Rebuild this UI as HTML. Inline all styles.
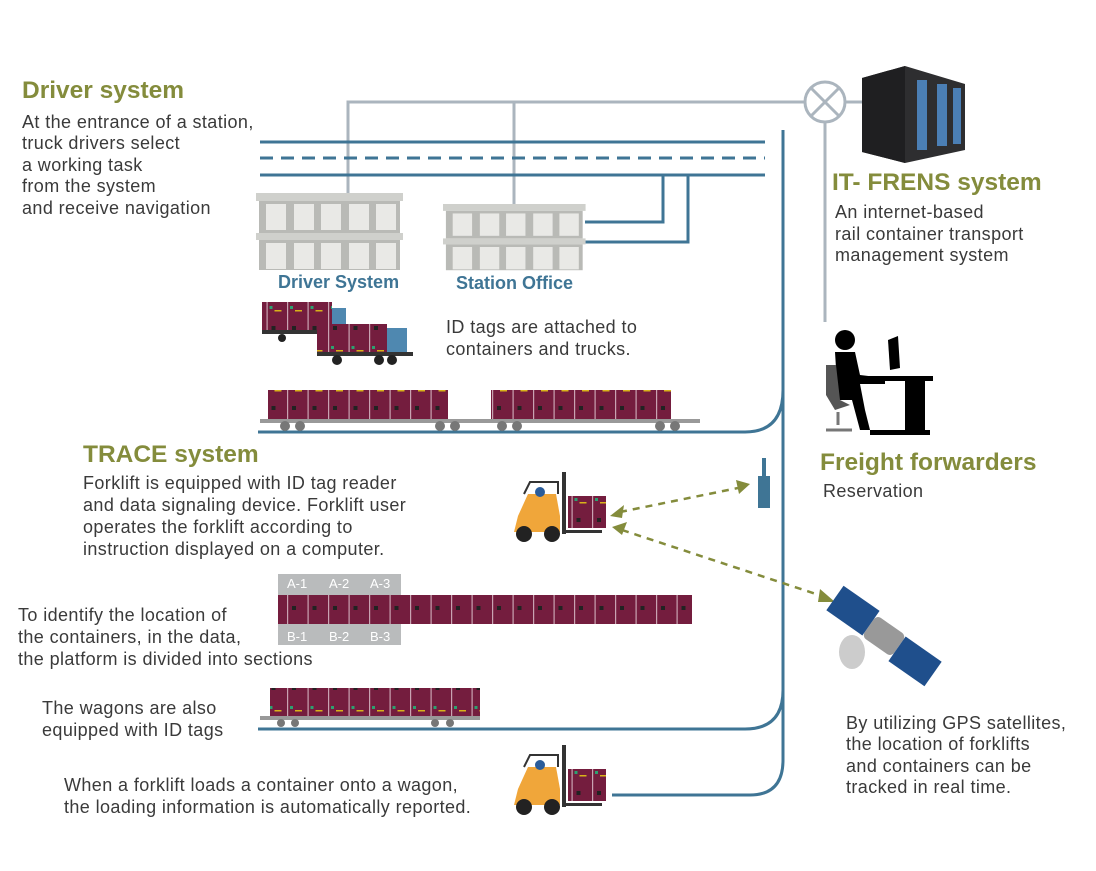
<!DOCTYPE html>
<html><head><meta charset="utf-8"><style>
html,body{margin:0;padding:0;background:#fff;}
svg{display:block;}
text{font-family:"Liberation Sans",sans-serif;}
.t{font-size:18px;fill:#3a3a3a;letter-spacing:0.4px;}
.h{font-size:24.5px;font-weight:bold;fill:#848c3c;}
.b{font-size:18px;font-weight:bold;fill:#3f7595;}
.g{font-size:13px;fill:#fff;}
</style></head><body>
<svg width="1096" height="871" viewBox="0 0 1096 871" xmlns="http://www.w3.org/2000/svg">
<defs>
<pattern id="cont" x="0" y="0" width="20.5" height="40" patternUnits="userSpaceOnUse">
<rect width="20.5" height="40" fill="#741d3e"/>
<rect x="0" y="0" width="1.2" height="40" fill="#c9a3b2"/>
<rect x="5" y="6" width="4" height="4" fill="#222"/>
<rect x="3" y="26" width="3" height="3" fill="#2da070"/>
<rect x="8" y="30" width="7" height="1.5" fill="#d8b21a"/>
</pattern>
<g id="flk">
<rect x="52" y="0" width="4" height="62" fill="#333"/>
<path d="M8 44 L18 22 L46 22 L50 44 L50 60 L4 60 Z" fill="#f0a63a"/>
<path d="M14 22 L20 10 L48 10 L48 22" fill="none" stroke="#333" stroke-width="2"/>
<circle cx="30" cy="20" r="5" fill="#2a5c9a"/>
<circle cx="14" cy="62" r="8" fill="#222"/><circle cx="42" cy="62" r="8" fill="#222"/>
<rect x="56" y="58" width="36" height="3" fill="#333"/>
<rect x="58" y="24" width="38" height="32" fill="url(#cont)"/>
</g>
<g id="bld">
<rect x="0" y="0" width="147" height="8" fill="#cfd0cc"/>
<rect x="3" y="8" width="141" height="32" fill="#b9bab6"/>
<rect x="0" y="40" width="147" height="7" fill="#cfd0cc"/>
<rect x="3" y="47" width="141" height="30" fill="#b9bab6"/>
</g>
</defs>

<g stroke="#abb5be" stroke-width="3" fill="none">
<path d="M348 195 V102 H805 M514 205 V102"/>
<circle cx="825" cy="102" r="20"/>
<path d="M811 88 L839 116 M839 88 L811 116"/>
<path d="M845 102 H862 M825 122 V322"/>
</g>
<g stroke="#3f7595" stroke-width="3" fill="none">
<path d="M260 142 H765 M260 175 H765"/>
<path d="M260 158 H765" stroke-dasharray="13 8"/>
<path d="M663 175 V222 H585 M688 175 V242 H585"/>
<path d="M783 130 V760 Q783 795 750 795 H612"/>
<path d="M783 390 Q783 432 745 432 H258"/>
<path d="M783 690 Q783 729 745 729 H258"/>
</g>
<g transform="translate(256,193)"><use href="#bld"/>
<g fill="#e9e9e6"><rect x="10" y="11" width="20" height="26"/><rect x="38" y="11" width="20" height="26"/><rect x="65" y="11" width="20" height="26"/><rect x="93" y="11" width="20" height="26"/><rect x="120" y="11" width="20" height="26"/>
<rect x="10" y="50" width="20" height="26"/><rect x="38" y="50" width="20" height="26"/><rect x="65" y="50" width="20" height="26"/><rect x="93" y="50" width="20" height="26"/><rect x="120" y="50" width="20" height="26"/></g></g>
<g transform="translate(443,204) scale(0.97,0.86)"><use href="#bld"/>
<g fill="#e9e9e6"><rect x="10" y="11" width="20" height="26"/><rect x="38" y="11" width="20" height="26"/><rect x="65" y="11" width="20" height="26"/><rect x="93" y="11" width="20" height="26"/><rect x="120" y="11" width="20" height="26"/>
<rect x="10" y="50" width="20" height="26"/><rect x="38" y="50" width="20" height="26"/><rect x="65" y="50" width="20" height="26"/><rect x="93" y="50" width="20" height="26"/><rect x="120" y="50" width="20" height="26"/></g></g>
<text class="b" x="278" y="288">Driver System</text>
<text class="b" x="456" y="289">Station Office</text>

<rect x="262" y="302" width="70" height="28" fill="url(#cont)"/>
<rect x="332" y="308" width="14" height="24" fill="#4f88b0"/>
<rect x="262" y="330" width="84" height="4" fill="#333"/>
<circle cx="282" cy="338" r="4" fill="#222"/>
<rect x="317" y="324" width="70" height="28" fill="url(#cont)"/>
<rect x="387" y="328" width="20" height="26" fill="#4f88b0"/>
<rect x="317" y="352" width="96" height="4" fill="#333"/>
<circle cx="337" cy="360" r="5" fill="#222"/><circle cx="379" cy="360" r="5" fill="#222"/><circle cx="392" cy="360" r="5" fill="#222"/>
<text class="t" x="446" y="333">ID tags are attached to</text>
<text class="t" x="446" y="355">containers and trucks.</text>

<rect x="268" y="390" width="180" height="29" fill="url(#cont)"/>
<rect x="491" y="390" width="180" height="29" fill="url(#cont)"/>
<rect x="260" y="419" width="440" height="4" fill="#999"/>
<g fill="#777"><circle cx="285" cy="426" r="5"/><circle cx="300" cy="426" r="5"/><circle cx="440" cy="426" r="5"/><circle cx="455" cy="426" r="5"/><circle cx="502" cy="426" r="5"/><circle cx="517" cy="426" r="5"/><circle cx="660" cy="426" r="5"/><circle cx="675" cy="426" r="5"/></g>

<g transform="translate(510,472)"><use href="#flk"/></g>
<g transform="translate(510,745)"><use href="#flk"/></g>

<rect x="762" y="458" width="4" height="20" fill="#3f7595"/>
<rect x="758" y="476" width="12" height="32" fill="#3f7595"/>

<g stroke="#848c3c" stroke-width="2.5" stroke-dasharray="7 6" fill="none">
<path d="M620 512 L738 488"/><path d="M622 530 L822 596"/>
</g>
<g fill="#848c3c">
<path d="M610 516 L624 505 L622 518 Z"/><path d="M750 484 L736 480 L739 494 Z"/>
<path d="M612 527 L627 522 L622 535 Z"/><path d="M835 602 L820 589 L818 602 Z"/>
</g>

<rect x="278" y="574" width="123" height="71" fill="#b9bbbc"/>
<text class="g" x="287" y="588">A-1</text><text class="g" x="329" y="588">A-2</text><text class="g" x="370" y="588">A-3</text>
<text class="g" x="287" y="641">B-1</text><text class="g" x="329" y="641">B-2</text><text class="g" x="370" y="641">B-3</text>
<rect x="278" y="595" width="414" height="29" fill="url(#cont)"/>

<rect x="270" y="688" width="210" height="28" fill="url(#cont)"/>
<rect x="260" y="716" width="220" height="4" fill="#999"/>
<g fill="#777"><circle cx="281" cy="723" r="4"/><circle cx="295" cy="723" r="4"/><circle cx="435" cy="723" r="4"/><circle cx="450" cy="723" r="4"/></g>

<path d="M862 78 L905 66 L965 84 L965 150 L905 163 L862 152 Z" fill="#2e2e30"/>
<path d="M905 66 L905 163 L862 152 L862 78 Z" fill="#1f1f21"/>
<g fill="#4b7fb5"><rect x="917" y="80" width="10" height="70"/><rect x="937" y="84" width="10" height="62"/><rect x="953" y="88" width="8" height="56"/></g>

<circle cx="845" cy="340" r="10" fill="#000"/>
<path d="M835 352 L855 352 L860 375 L885 378 L885 384 L860 384 L865 410 L870 430 L860 430 L852 400 L838 400 Z" fill="#000"/>
<path d="M826 365 L836 365 L840 400 L850 405 L835 410 L826 395 Z" fill="#555"/>
<path d="M838 412 L838 425 M826 430 L852 430" stroke="#777" stroke-width="3"/>
<rect x="863" y="376" width="70" height="5" fill="#000"/>
<rect x="905" y="380" width="20" height="55" fill="#000"/>
<rect x="870" y="430" width="60" height="5" fill="#000"/>
<path d="M888 340 L898 336 L900 368 L890 370 Z" fill="#000"/>

<g transform="translate(884,636) rotate(35)">
<rect x="-18" y="-13" width="36" height="26" rx="5" fill="#999"/>
<rect x="18" y="-12" width="44" height="30" fill="#1f4f8c"/>
<rect x="-62" y="-18" width="44" height="30" fill="#1f4f8c"/>
</g>
<ellipse cx="852" cy="652" rx="13" ry="17" fill="#ccc"/>

<text class="h" x="22" y="98">Driver system</text>
<text class="t" x="22" y="128">At the entrance of a station,</text>
<text class="t" x="22" y="149">truck drivers select</text>
<text class="t" x="22" y="171">a working task</text>
<text class="t" x="22" y="192">from the system</text>
<text class="t" x="22" y="214">and receive navigation</text>

<text class="h" x="832" y="190">IT- FRENS system</text>
<text class="t" x="835" y="218">An internet-based</text>
<text class="t" x="835" y="240">rail container transport</text>
<text class="t" x="835" y="261">management system</text>

<text class="h" x="820" y="470">Freight forwarders</text>
<text class="t" x="823" y="497">Reservation</text>

<text class="h" x="83" y="462">TRACE system</text>
<text class="t" x="83" y="489">Forklift is equipped with ID tag reader</text>
<text class="t" x="83" y="511">and data signaling device. Forklift user</text>
<text class="t" x="83" y="533">operates the forklift according to</text>
<text class="t" x="83" y="555">instruction displayed on a computer.</text>

<text class="t" x="18" y="621">To identify the location of</text>
<text class="t" x="18" y="643">the containers, in the data,</text>
<text class="t" x="18" y="665">the platform is divided into sections</text>

<text class="t" x="42" y="714">The wagons are also</text>
<text class="t" x="42" y="736">equipped with ID tags</text>

<text class="t" x="64" y="791">When a forklift loads a container onto a wagon,</text>
<text class="t" x="64" y="813">the loading information is automatically reported.</text>

<text class="t" x="846" y="729">By utilizing GPS satellites,</text>
<text class="t" x="846" y="750">the location of forklifts</text>
<text class="t" x="846" y="772">and containers can be</text>
<text class="t" x="846" y="793">tracked in real time.</text>
</svg>
</body></html>
